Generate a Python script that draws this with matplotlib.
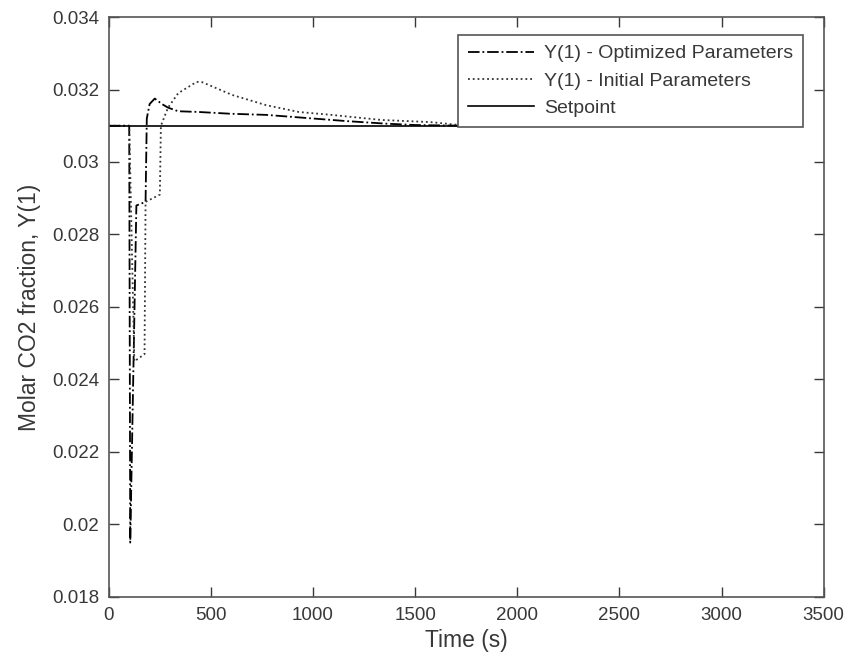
""" Molar CO2 fraction response: optimized vs initial controller parameters """

import matplotlib
matplotlib.use("Agg")
import matplotlib.pyplot as plt

# optimized parameters response (dash-dot)
t_opt = [0, 100, 105, 135, 180, 186, 200, 225, 260, 290, 340, 440, 600, 770,
         1000, 1160, 1350, 1500, 1750]
y_opt = [0.031, 0.031, 0.0195, 0.0288, 0.0289, 0.0312, 0.0316, 0.03175,
         0.0316, 0.0315, 0.0314, 0.03138, 0.03133, 0.0313, 0.0312, 0.03113,
         0.03106, 0.03102, 0.0310]

# initial parameters response (dotted)
t_ini = [0, 100, 125, 175, 180, 250, 255, 290, 340, 430, 458, 604, 769, 930,
         1090, 1334, 1577, 1750]
y_ini = [0.031, 0.031, 0.0245, 0.0247, 0.0289, 0.0291, 0.031, 0.0315,
         0.0319, 0.03221, 0.0322, 0.03185, 0.03157, 0.03138, 0.0313,
         0.03116, 0.0311, 0.0310]

# setpoint
t_sp = [0, 1750]
y_sp = [0.031, 0.031]

x_ticks = [0, 500, 1000, 1500, 2000, 2500, 3000, 3500]
y_ticks = [0.018, 0.02, 0.022, 0.024, 0.026, 0.028, 0.03, 0.032, 0.034]
y_tick_labels = ["0.018", "0.02", "0.022", "0.024", "0.026", "0.028",
                 "0.03", "0.032", "0.034"]

GREY = "#383838"


def main():
    """Draw the chart and save it"""
    plt.rcParams["font.family"] = ["Liberation Sans", "DejaVu Sans"]
    fig = plt.figure(figsize=(8.5, 6.67), dpi=100)
    ax = fig.add_axes([0.128, 0.105, 0.841, 0.8695])

    ax.plot(t_opt, y_opt, color="black", linestyle="-.", linewidth=1.3,
            label="Y(1) - Optimized Parameters")
    ax.plot(t_ini, y_ini, color="#333333", linestyle=":", linewidth=1.3,
            label="Y(1) - Initial Parameters")
    ax.plot(t_sp, y_sp, color="black", linestyle="-", linewidth=1.2,
            label="Setpoint")

    ax.set_xlim(0, 3500)
    ax.set_ylim(0.018, 0.034)
    ax.set_xticks(x_ticks)
    ax.set_yticks(y_ticks)
    ax.set_yticklabels(y_tick_labels)
    ax.tick_params(direction="in", top=True, right=True, length=7,
                   width=1, colors=GREY, labelsize=13.5, pad=7)
    for spine in ax.spines.values():
        spine.set_color("#555555")
        spine.set_linewidth(1.2)

    ax.set_xlabel("Time (s)", fontsize=16.5, color=GREY, labelpad=4)
    ax.set_ylabel("Molar CO2 fraction, Y(1)", fontsize=16.5, color=GREY,
                  labelpad=8)

    leg = ax.legend(loc="upper right", bbox_to_anchor=(0.9706, 0.969),
                    borderaxespad=0, fontsize=14, frameon=True,
                    fancybox=False, framealpha=1, edgecolor="#555555",
                    handlelength=3.4, borderpad=0.5, labelspacing=0.5,
                    handletextpad=0.5)
    leg.get_frame().set_linewidth(1.2)
    for text in leg.get_texts():
        text.set_color(GREY)

    fig.savefig("out.png", dpi=100)


if __name__ == "__main__":
    main()
